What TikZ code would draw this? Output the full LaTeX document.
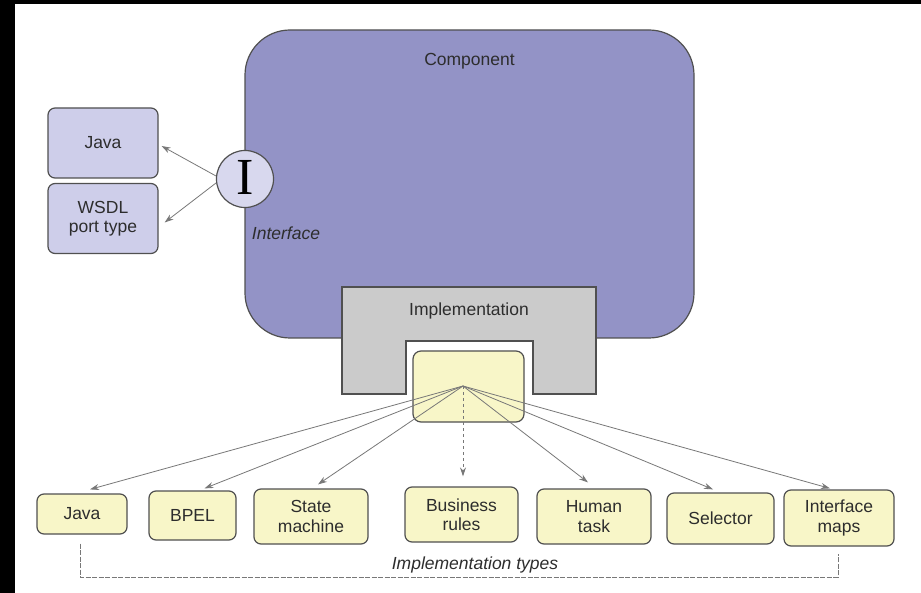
\documentclass[tikz,border=0pt]{standalone}
\usepackage{fontspec}
\setmainfont{Liberation Sans}
\newfontfamily\serifI{Liberation Serif}
\usetikzlibrary{arrows.meta,calc}
\definecolor{compfill}{RGB}{147,147,198}
\definecolor{lavbox}{RGB}{206,206,234}
\definecolor{circfill}{RGB}{216,216,238}
\definecolor{implgray}{RGB}{203,203,203}
\definecolor{yel}{RGB}{248,246,200}
\definecolor{edge}{RGB}{80,80,80}
\definecolor{txt}{RGB}{45,45,45}
\definecolor{arr}{RGB}{120,120,120}
\tikzset{
  lab/.style={font=\fontsize{17.5}{19.5}\selectfont, text=txt, align=center},
  lavnode/.style={draw=edge, line width=1.2pt, fill=lavbox, rounded corners=7pt,
    minimum width=110pt, minimum height=70pt, lab, inner sep=0pt},
  typebox/.style={draw=edge, line width=1.2pt, fill=yel, rounded corners=7pt,
    lab, inner sep=0pt},
  fan/.style={draw=arr, line width=0.8pt, -{Stealth[length=9pt,width=6pt]}},
}
\begin{document}
\begin{tikzpicture}[x=1pt,y=-1pt]
\useasboundingbox (0,0) rectangle (921,593);
\fill[white] (0,0) rectangle (921,593);
\fill[black] (0,0) rectangle (15,593);
\fill[black] (0,0) rectangle (921,4);

% component
\draw[edge, line width=1.2pt, fill=compfill, rounded corners=45pt] (245,30) rectangle (694,338);
\node[lab] (comp) at (469.5,61) {Component};

% implementation
\draw[edge, line width=1.2pt, fill=implgray] (342,287) -- (596,287) -- (596,394) -- (533,394) -- (533,341) -- (406,341) -- (406,394) -- (342,394) -- cycle;
\node[lab] (impl) at (469,311) {Implementation};

% yellow impl box
\node[draw=edge, line width=1.2pt, fill=yel, rounded corners=8pt, minimum width=111pt, minimum height=71pt, inner sep=0pt] (ybox) at (468.5,386.5) {};
\coordinate (apex) at (463,386);

% interface
\node[lavnode] (ijava) at (103,143) {Java};
\node[lavnode] (iwsdl) at (103,218.5) {WSDL\\port type};
\node[circle, draw=edge, line width=1.2pt, fill=circfill, minimum size=57pt, inner sep=0pt] (ifc) at (245,179) {};
\node[font=\serifI\fontsize{52}{52}\selectfont, text=black] (iletter) at (245,177) {I};
\node[lab, font=\fontsize{17.5}{19.5}\selectfont\itshape] (ifclab) at (286,233) {Interface};
\coordinate (ia) at (216,176);
\coordinate (ib) at (216,183);
\draw[fan] (ia) -- ([xshift=3pt,yshift=-3pt]ijava.east);
\draw[fan] (ib) -- ([xshift=6pt,yshift=-4pt]iwsdl.east);

% implementation types
\node[typebox, minimum width=90pt, minimum height=40pt] (tjava) at (82,514) {Java};
\node[typebox, minimum width=87pt, minimum height=49pt] (tbpel) at (192.5,515.5) {BPEL};
\node[typebox, minimum width=114pt, minimum height=55pt] (tstate) at (311,516.5) {State\\machine};
\node[typebox, minimum width=113pt, minimum height=55pt] (tbiz) at (461.5,514.5) {Business\\rules};
\node[typebox, minimum width=114pt, minimum height=55pt] (thuman) at (594,516.5) {Human\\task};
\node[typebox, minimum width=107pt, minimum height=51pt] (tsel) at (720.5,518.5) {Selector};
\node[typebox, minimum width=110pt, minimum height=56pt] (tmaps) at (839,518) {Interface\\maps};

\draw[fan] (apex) -- ([xshift=8pt,yshift=4pt]tjava.north);
\draw[fan] (apex) -- ([xshift=12pt,yshift=2pt]tbpel.north);
\draw[fan] (apex) -- ([xshift=7pt,yshift=4pt]tstate.north);
\draw[fan, dashed] (apex) -- ([xshift=1.5pt,yshift=10pt]tbiz.north);
\draw[fan] (apex) -- ([xshift=-6pt,yshift=6pt]thuman.north);
\draw[fan] (apex) -- ([xshift=-7.5pt,yshift=3pt]tsel.north);
\draw[fan] (apex) -- ([xshift=-9pt,yshift=1pt]tmaps.north);

% bracket
\coordinate (bl) at (80,577);
\coordinate (br) at (838,577);
\draw[arr, line width=0.8pt, dash pattern=on 5pt off 1.5pt] ([xshift=-2pt,yshift=-9pt]tjava.south) -- (bl) -- (br) -- ([xshift=-1pt,yshift=-7pt]tmaps.south);
\node[lab, font=\fontsize{17.5}{19.5}\selectfont\itshape] (typeslab) at (475,565) {Implementation types};
\end{tikzpicture}
\end{document}
